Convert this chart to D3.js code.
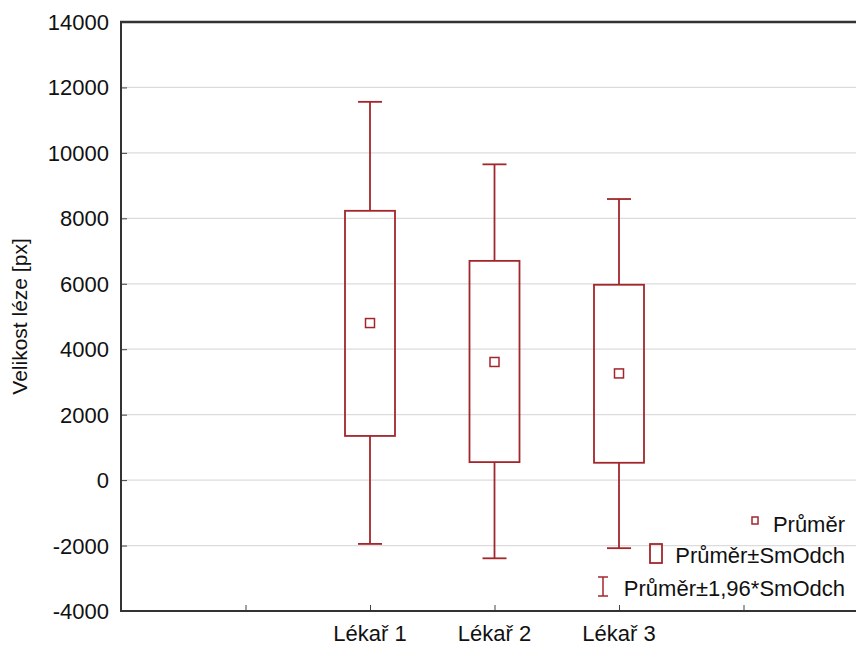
<!DOCTYPE html>
<html>
<head>
<meta charset="utf-8">
<script src="https://cdn.jsdelivr.net/npm/d3@7"></script>
<style>
  body { margin: 0; background: #fff; }
  svg { display: block; font-family: "Liberation Sans", Arial, sans-serif; }
</style>
</head>
<body>
<script>
// values
var categories = ['Lékař 1', 'Lékař 2', 'Lékař 3'];
var catPos = [2, 3, 4];
var means = [4800, 3610, 3260];
var boxLow = [1350, 550, 530];
var boxHigh = [8230, 6700, 5970];
var whiskLow = [-1950, -2390, -2080];
var whiskHigh = [11560, 9650, 8590];
var yTicks = [-4000, -2000, 0, 2000, 4000, 6000, 8000, 10000, 12000, 14000];
var xTicks = [1, 2, 3, 4, 5];
var legendLabels = ['Průměr', 'Průměr±SmOdch', 'Průměr±1,96*SmOdch'];

var width = 856, height = 647;
var margin = { top: 22, right: 0, bottom: 36, left: 121 };
var colour = '#a3262c';
var fontSize = '22px';

var svg = d3.select('body').append('svg')
  .attr('width', width)
  .attr('height', height);

var y = d3.scaleLinear()
  .domain([-4000, 14000])
  .range([height - margin.bottom, margin.top]);

var x = d3.scaleLinear()
  .domain([0, 6])
  .range([margin.left, margin.left + 6 * 124.5]);

var plotRight = width;

// grid
svg.append('g')
  .selectAll('line')
  .data(yTicks.filter(d => d > -4000 && d < 14000))
  .enter()
  .append('line')
  .attr('x1', margin.left)
  .attr('x2', plotRight)
  .attr('y1', d => y(d))
  .attr('y2', d => y(d))
  .style('stroke', '#dcdcdc')
  .style('stroke-width', 1.2);

// y axis
var yAxis = d3.axisLeft(y)
  .tickValues(yTicks)
  .tickSize(-6)
  .tickPadding(12)
  .tickFormat(d => d);

var gy = svg.append('g')
  .attr('transform', `translate(${margin.left},0)`)
  .call(yAxis);
gy.select('.domain').remove();
gy.selectAll('.tick line').style('stroke', '#444');
gy.selectAll('text')
  .attr('dy', '0.34em')
  .style('font-size', fontSize)
  .style('fill', '#111')
  .style('font-family', '"Liberation Sans", Arial, sans-serif');

// x axis
var xAxis = d3.axisBottom(x)
  .tickValues(xTicks)
  .tickSize(-6)
  .tickFormat('');

var gx = svg.append('g')
  .attr('transform', `translate(0,${y(-4000)})`)
  .call(xAxis);
gx.select('.domain').remove();
gx.selectAll('.tick line').style('stroke', '#444');

// frame
svg.append('line')
  .attr('x1', margin.left).attr('x2', margin.left)
  .attr('y1', y(14000)).attr('y2', y(-4000))
  .style('stroke', '#333').style('stroke-width', 2);
svg.append('line')
  .attr('x1', margin.left - 1).attr('x2', plotRight)
  .attr('y1', y(-4000)).attr('y2', y(-4000))
  .style('stroke', '#333').style('stroke-width', 2);
svg.append('line')
  .attr('x1', margin.left - 1).attr('x2', plotRight)
  .attr('y1', y(14000)).attr('y2', y(14000))
  .style('stroke', '#333').style('stroke-width', 2.5);

// category labels
svg.selectAll('text.cat')
  .data(categories)
  .enter()
  .append('text')
  .attr('class', 'cat')
  .attr('x', (d, i) => x(catPos[i]))
  .attr('y', 641)
  .style('text-anchor', 'middle')
  .style('font-size', fontSize)
  .style('fill', '#111')
  .text(d => d);

// y title
svg.append('text')
  .attr('transform', `translate(27,${(y(14000) + y(-4000)) / 2}) rotate(-90)`)
  .style('text-anchor', 'middle')
  .style('font-size', '21px')
  .style('fill', '#111')
  .text('Velikost léze [px]');

// boxes
var boxW = 50, capW = 24, meanS = 9;
var g = svg.append('g').style('stroke', colour).style('fill', 'none').style('stroke-width', 1.8);

categories.forEach((c, i) => {
  var cx = x(catPos[i]);
  g.append('line')
    .attr('x1', cx).attr('x2', cx)
    .attr('y1', y(whiskHigh[i])).attr('y2', y(boxHigh[i]));
  g.append('line')
    .attr('x1', cx).attr('x2', cx)
    .attr('y1', y(boxLow[i])).attr('y2', y(whiskLow[i]));
  g.append('line')
    .attr('x1', cx - capW / 2).attr('x2', cx + capW / 2)
    .attr('y1', y(whiskHigh[i])).attr('y2', y(whiskHigh[i]));
  g.append('line')
    .attr('x1', cx - capW / 2).attr('x2', cx + capW / 2)
    .attr('y1', y(whiskLow[i])).attr('y2', y(whiskLow[i]));
  g.append('rect')
    .attr('x', cx - boxW / 2)
    .attr('y', y(boxHigh[i]))
    .attr('width', boxW)
    .attr('height', y(boxLow[i]) - y(boxHigh[i]));
  g.append('rect')
    .attr('x', cx - meanS / 2)
    .attr('y', y(means[i]) - meanS / 2)
    .attr('width', meanS)
    .attr('height', meanS)
    .style('stroke-width', 1.5);
});

// legend
var legX = 845;
var legY = [524, 555, 588];
svg.selectAll('text.leg')
  .data(legendLabels)
  .enter()
  .append('text')
  .attr('class', 'leg')
  .attr('x', legX)
  .attr('y', (d, i) => legY[i])
  .attr('dy', '0.35em')
  .style('text-anchor', 'end')
  .style('font-size', fontSize)
  .style('fill', '#111')
  .text(d => d);

var lg = svg.append('g').style('stroke', colour).style('fill', 'none').style('stroke-width', 1.5);
lg.append('rect').attr('x', 752).attr('y', 517).attr('width', 6).attr('height', 7);
lg.append('rect').attr('x', 650).attr('y', 544).attr('width', 12).attr('height', 19).style('stroke-width', 1.8);
lg.append('line').attr('x1', 603).attr('x2', 603).attr('y1', 577).attr('y2', 596);
lg.append('line').attr('x1', 598).attr('x2', 608).attr('y1', 577).attr('y2', 577);
lg.append('line').attr('x1', 598).attr('x2', 608).attr('y1', 596).attr('y2', 596);
</script>
</body>
</html>
